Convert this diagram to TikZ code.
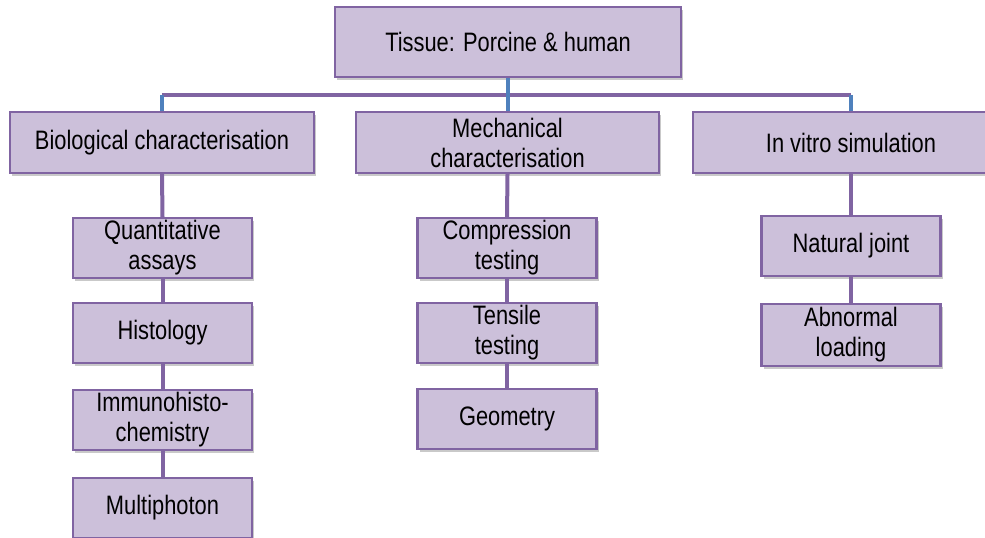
\documentclass[tikz,border=0pt]{standalone}
\usepackage{fontspec}
\setmainfont{Liberation Sans}[FakeStretch=0.82]
\usetikzlibrary{shadows}
\definecolor{boxfill}{HTML}{CCC0DA}
\definecolor{boxedge}{HTML}{8064A2}
\definecolor{linkblue}{HTML}{4F81BD}
\tikzset{
  box/.style={draw=boxedge, line width=1.6pt, fill=boxfill,
    drop shadow={shadow xshift=1.5pt, shadow yshift=-2pt, opacity=0.35, fill=black!60},
    font=\fontsize{20}{22.5}\selectfont, align=center, inner sep=0pt},
  subbox/.style={box, minimum width=134.25pt, minimum height=45pt},
  mainbox/.style={box, minimum height=45.75pt},
  purpleline/.style={draw=boxedge, line width=3pt},
  blueline/.style={draw=linkblue, line width=3pt}
}
\begin{document}
\begin{tikzpicture}[x=0.75pt, y=-0.75pt]
\clip (0,0) rectangle (985,537);
\fill[white] (0,0) rectangle (985,537);
\coordinate (bar) at (0,95);
% connectors (behind boxes)
\coordinate (barL) at (162,95);
\coordinate (barR) at (851,95);
\draw[purpleline] (barL) -- (barR);
% nodes
\node[box, minimum width=259.5pt, minimum height=52.5pt] (top) at (508,42) {Tissue: Porcine \& human};
\node[mainbox, minimum width=228pt] (bio) at (162,142.5) {Biological characterisation};
\node[mainbox, minimum width=227.25pt] (mech) at (507.5,142.5) {Mechanical\\characterisation};
\node[mainbox, minimum width=237pt] (vit) at (851,142.5) {In vitro simulation};
\node[subbox] (qa) at (162.5,248) {Quantitative\\assays};
\node[subbox] (hist) at (162.5,333) {Histology};
\node[subbox] (imm) at (162.5,420) {Immunohisto-\\chemistry};
\node[subbox] (mp) at (162.5,508) {Multiphoton};
\node[subbox] (comp) at (507,248) {Compression\\testing};
\node[subbox] (tens) at (507,333) {Tensile\\testing};
\node[subbox] (geo) at (507,419) {Geometry};
\node[subbox] (nat) at (851,246) {Natural joint};
\node[subbox, minimum height=46.5pt] (abn) at (851,335) {Abnormal\\loading};
% blue links from bar
\draw[blueline] (top.south) -- (top.south |- bar);
\draw[blueline] (mech.north |- bar) -- (mech.north);
\draw[blueline] (bio.north |- bar) -- (bio.north);
\draw[blueline] (vit.north |- bar) -- (vit.north);
% purple links between boxes
\draw[purpleline] (bio.south) -- (qa.north);
\draw[purpleline] (qa.south) -- (hist.north);
\draw[purpleline] (hist.south) -- (imm.north);
\draw[purpleline] (imm.south) -- (mp.north);
\draw[purpleline] (mech.south) -- (comp.north);
\draw[purpleline] (comp.south) -- (tens.north);
\draw[purpleline] (tens.south) -- (geo.north);
\draw[purpleline] (vit.south) -- (nat.north);
\draw[purpleline] (nat.south) -- (abn.north);
\end{tikzpicture}
\end{document}
